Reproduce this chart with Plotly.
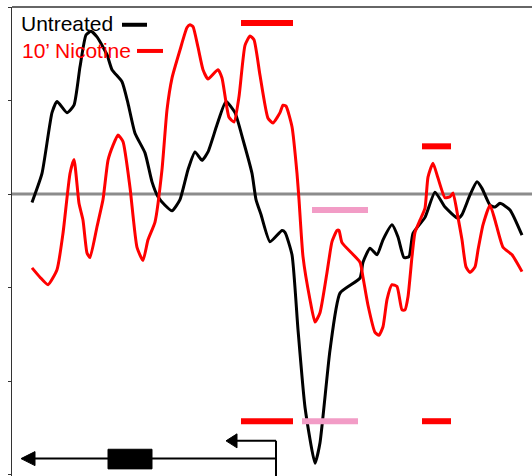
import plotly.graph_objects as go

# Sample positions along the region (arbitrary position units) and signal values
untreated_pos = [32, 42, 52, 57, 67, 74, 80, 86, 91, 97, 107, 112, 122, 128, 135, 145, 152, 158,
                 165, 172, 180, 188, 195, 202, 208, 217, 226, 235, 243, 252, 256, 261, 270, 282,
                 285, 292, 298, 305, 315, 320, 330, 340, 360, 363, 370, 377, 383, 392, 398, 404,
                 409, 413, 425, 435, 445, 458, 462, 470, 477, 482, 490, 495, 500, 510, 522]
untreated_val = [-0.09, 0.22, 0.87, 0.99, 0.87, 0.95, 1.36, 1.70, 1.74, 1.68, 1.49, 1.33, 1.20,
                 0.97, 0.65, 0.44, 0.13, -0.03, -0.12, -0.18, -0.06, 0.26, 0.45, 0.36, 0.45, 0.74,
                 0.99, 0.87, 0.58, 0.22, -0.06, -0.22, -0.51, -0.39, -0.41, -0.65, -1.45, -2.28,
                 -2.88, -2.66, -1.67, -1.06, -0.90, -0.73, -0.58, -0.65, -0.49, -0.33, -0.46,
                 -0.68, -0.67, -0.42, -0.25, 0.02, -0.14, -0.26, -0.22, -0.01, 0.13, 0.06, -0.12,
                 -0.14, -0.10, -0.17, -0.44]

nicotine_pos = [32, 40, 48, 57, 63, 70, 74, 79, 83, 87, 90, 97, 103, 108, 113, 118, 123, 130,
                137, 143, 148, 155, 162, 167, 172, 180, 187, 190, 193, 198, 203, 208, 218, 222,
                229, 234, 239, 245, 250, 254, 260, 268, 273, 280, 283, 286, 292, 297, 299, 303,
                310, 315, 320, 327, 332, 337, 339, 342, 360, 363, 368, 375, 379, 383, 387, 392,
                397, 402, 405, 408, 412, 415, 420, 425, 428, 433, 438, 445, 450, 453, 458, 462,
                466, 470, 475, 478, 483, 490, 495, 503, 512, 522]
nicotine_val = [-0.79, -0.89, -0.97, -0.81, -0.42, 0.22, 0.37, -0.10, -0.28, -0.63, -0.68, -0.35,
                -0.06, 0.36, 0.52, 0.63, 0.56, 0.07, -0.57, -0.71, -0.49, -0.30, 0.26, 0.90, 1.24,
                1.54, 1.78, 1.81, 1.79, 1.57, 1.33, 1.23, 1.33, 1.24, 0.82, 0.77, 1.04, 1.59, 1.69,
                1.65, 1.27, 0.81, 0.76, 0.87, 0.95, 0.94, 0.72, 0.22, -0.06, -0.67, -1.13, -1.37,
                -1.27, -0.84, -0.51, -0.39, -0.39, -0.52, -0.73, -0.89, -1.19, -1.48, -1.51, -1.42,
                -1.13, -0.97, -0.99, -1.24, -1.24, -1.10, -0.67, -0.41, -0.28, -0.15, 0.18, 0.33,
                0.17, -0.04, -0.03, 0.01, -0.25, -0.49, -0.78, -0.84, -0.78, -0.60, -0.33, -0.12,
                -0.28, -0.57, -0.65, -0.83]

# Highlighted intervals: (start, end, level, colour)
RED = "#ff0000"
PINK = "#f29cc6"
intervals = [
    (241, 293, 1.83, RED),
    (422, 451, 0.51, RED),
    (312, 368, -0.17, PINK),
    (241, 293, -2.43, RED),
    (302, 358, -2.43, PINK),
    (422, 451, -2.43, RED),
]

# Gene schematic (positions along the same axis)
gene_line_y = -2.83
gene_start, gene_end = 21, 276
exon_x = (108, 152)
exon_y = (-2.94, -2.73)
tss_arrow_y = -2.64
tss_arrow_tip = 226

Y_MIN, Y_MAX = -3.016, 2.0
X_MIN, X_MAX = 12, 532

fig = go.Figure()

# Zero reference line
fig.add_shape(type="line", x0=X_MIN, x1=X_MAX, y0=0, y1=0,
              line=dict(color="#8c8c8c", width=3), layer="below")

fig.add_trace(go.Scatter(x=untreated_pos, y=untreated_val, mode="lines",
                         line=dict(color="black", width=3, shape="spline", smoothing=0.5),
                         showlegend=False))
fig.add_trace(go.Scatter(x=nicotine_pos, y=nicotine_val, mode="lines",
                         line=dict(color=RED, width=3, shape="spline", smoothing=0.5),
                         showlegend=False))

for x0, x1, lvl, col in intervals:
    fig.add_shape(type="line", x0=x0, x1=x1, y0=lvl, y1=lvl,
                  line=dict(color=col, width=6))

# Gene schematic: main line, exon box, promoter arrow
blk = dict(color="black", width=2)
fig.add_shape(type="line", x0=gene_start + 10, x1=gene_end, y0=gene_line_y, y1=gene_line_y, line=blk)
fig.add_shape(type="path",
              path=f"M {gene_start},{gene_line_y} L {gene_start + 14},{gene_line_y + 0.075} "
                   f"L {gene_start + 14},{gene_line_y - 0.075} Z",
              fillcolor="black", line=dict(color="black", width=1))
fig.add_shape(type="rect", x0=exon_x[0], x1=exon_x[1], y0=exon_y[0], y1=exon_y[1],
              fillcolor="black", line=dict(color="black", width=1))
fig.add_shape(type="line", x0=gene_end, x1=gene_end, y0=Y_MIN - 0.05, y1=tss_arrow_y, line=blk)
fig.add_shape(type="line", x0=tss_arrow_tip + 8, x1=gene_end, y0=tss_arrow_y, y1=tss_arrow_y, line=blk)
fig.add_shape(type="path",
              path=f"M {tss_arrow_tip},{tss_arrow_y} L {tss_arrow_tip + 11},{tss_arrow_y + 0.075} "
                   f"L {tss_arrow_tip + 11},{tss_arrow_y - 0.075} Z",
              fillcolor="black", line=dict(color="black", width=1))

# Top frame line
fig.add_shape(type="line", xref="paper", yref="paper", x0=0, x1=1, y0=1, y1=1,
              line=dict(color="#333333", width=1.5))

# Legend labels with sample swatches
font = "Liberation Sans, Arial, sans-serif"
fig.add_annotation(x=19, y=1.82, text="Untreated", showarrow=False, xanchor="left",
                   yanchor="middle", font=dict(family=font, size=21, color="black"))
fig.add_annotation(x=20, y=1.54, text="10\u2019 Nicotine", showarrow=False, xanchor="left",
                   yanchor="middle", font=dict(family=font, size=21, color=RED))
fig.add_shape(type="line", x0=122, x1=147, y0=1.81, y1=1.81, line=dict(color="black", width=4))
fig.add_shape(type="line", x0=137, x1=163, y0=1.53, y1=1.53, line=dict(color=RED, width=4))

fig.update_xaxes(range=[X_MIN, X_MAX], showgrid=False, zeroline=False, showticklabels=False,
                 showline=False)
fig.update_yaxes(range=[Y_MIN, Y_MAX], showgrid=False, zeroline=False, showticklabels=False,
                 showline=True, linecolor="#333333", linewidth=1,
                 ticks="outside", ticklen=3, tickcolor="#333333", tickwidth=1,
                 tickvals=[2, 1, 0, -1, -2, -3])

fig.update_layout(width=532, height=476, margin=dict(l=12, r=0, t=7, b=0),
                  plot_bgcolor="white", paper_bgcolor="white")

fig.write_html("out.html")
